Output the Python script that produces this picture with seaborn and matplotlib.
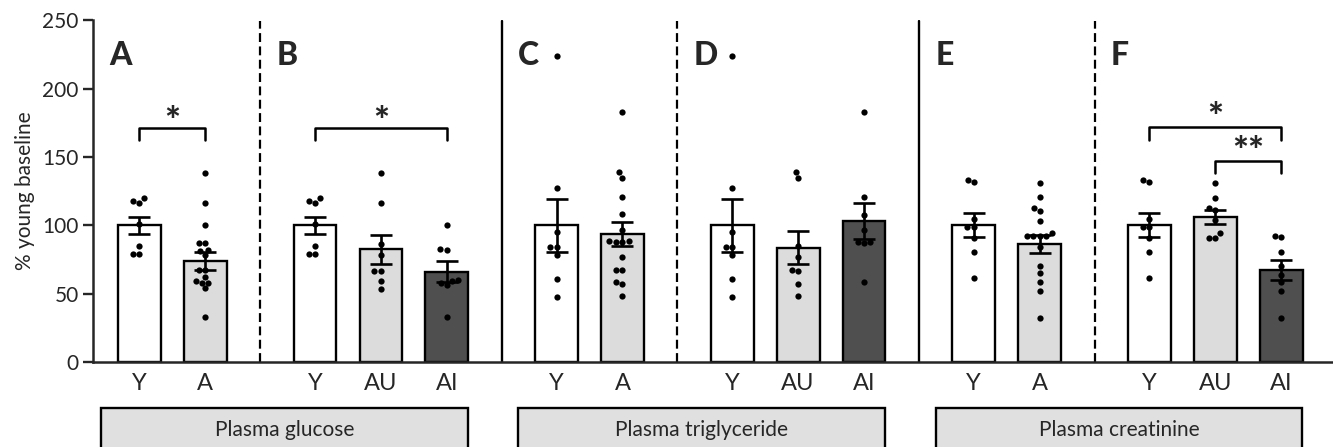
import numpy as np
import pandas as pd
import matplotlib
matplotlib.use("Agg")
import matplotlib.pyplot as plt
import seaborn as sns
from matplotlib.patches import Rectangle
from matplotlib.transforms import blended_transform_factory

# --- data (% young baseline) ---
panel_letters = ["A", "B", "C", "D", "E", "F"]
panel_groups = [["Y", "A"], ["Y", "AU", "AI"],
                ["Y", "A"], ["Y", "AU", "AI"],
                ["Y", "A"], ["Y", "AU", "AI"]]
measures = ["Plasma glucose", "Plasma triglyceride", "Plasma creatinine"]

bar_means = [[100, 74], [100, 82.5, 66],
             [100, 93.5], [100, 83.5, 103],
             [100, 86.5], [100, 106, 67.5]]
bar_sems = [[6.4, 6.7], [6.4, 10.7, 7.6],
            [19.3, 9.0], [19.3, 12.0, 13.0],
            [8.8, 6.4], [8.8, 5.0, 7.2]]

young_glucose = [119.6, 116.5, 117.7, 101, 84.8, 78.7, 78.7]
aged_glucose = [138, 116, 100, 87, 87, 82, 81, 78, 67, 67, 62, 59, 58, 58, 54, 33]
aged_u_glucose = [138, 116, 86, 78, 66.5, 66.5, 59.4, 53.4]
aged_i_glucose = [100, 83, 82, 60, 58, 56, 59, 33]

young_tg = [224, 127, 95.3, 84.3, 84.3, 78.2, 60.4, 47.3]
aged_tg = [183, 138.7, 134.7, 120.8, 108, 96.5, 88.4, 87.5, 87.5, 88.4,
           77, 67.3, 67, 58.5, 56.8, 48.2]
aged_u_tg = [139.1, 134.7, 84.8, 77, 66.5, 67.3, 57, 48.2]
aged_i_tg = [182.5, 120.8, 107.5, 96.5, 88, 86.8, 88, 58.7]

young_creat = [131.3, 133, 104.5, 99, 99, 90.4, 80.2, 61.2]
aged_creat = [130.6, 120.4, 112.8, 110.4, 103.3, 92, 92, 92, 92, 94.5,
              84, 70.2, 64.8, 58.3, 52.1, 31.9]
aged_u_creat = [130.6, 120.1, 111, 112.3, 103.8, 91, 94, 91]
aged_i_creat = [92.4, 91.1, 80.7, 70.4, 63.6, 58.5, 51.9, 31.9]

panel_points = [[young_glucose, aged_glucose],
                [young_glucose, aged_u_glucose, aged_i_glucose],
                [young_tg, aged_tg],
                [young_tg, aged_u_tg, aged_i_tg],
                [young_creat, aged_creat],
                [young_creat, aged_u_creat, aged_i_creat]]

# significance brackets: panel, from bar, to bar, height, label, label centre
sig_panel = [0, 1, 5, 5]
sig_from = [0, 0, 0, 1]
sig_to = [1, 2, 2, 2]
sig_y = [171, 171, 171.5, 147]
sig_label = ["*", "*", "*", "**"]
sig_text_y = [180.5, 180.5, 184, 158.6]

group_colors = {"Y": "white", "A": "#dcdcdc", "AU": "#dcdcdc", "AI": "#4f4f4f"}

# --- layout of bars along one shared axis ---
gap = 5 / 3
positions = []
start = 0.0
for groups in panel_groups:
    positions.append([start + i for i in range(len(groups))])
    start = positions[-1][-1] + gap

bars = []
points = []
for p, groups in enumerate(panel_groups):
    for i, g in enumerate(groups):
        bars.append({"pos": positions[p][i], "mean": bar_means[p][i],
                     "sem": bar_sems[p][i], "group": g})
        for v in panel_points[p][i]:
            points.append({"pos": positions[p][i], "value": v})
bars = pd.DataFrame(bars)
points = pd.DataFrame(points)

sns.set_theme(style="ticks")
plt.rcParams["font.family"] = ["Lato", "DejaVu Sans"]
plt.rcParams["axes.linewidth"] = 1.8

fig = plt.figure(figsize=(13.33, 4.47), dpi=100)
ax = fig.add_axes([0.0695, 0.19, 0.9305, 0.765])

sns.barplot(data=bars, x="pos", y="mean", hue="group", palette=group_colors,
            native_scale=True, dodge=False, width=0.65, errorbar=None,
            edgecolor="black", linewidth=1.7, legend=False, ax=ax, zorder=2)
ax.errorbar(bars["pos"], bars["mean"], yerr=bars["sem"], fmt="none",
            ecolor="black", elinewidth=1.9, capsize=8, capthick=1.9, zorder=3)
sns.swarmplot(data=points, x="pos", y="value", native_scale=True,
              color="black", size=4.5, ax=ax, zorder=4)

# panel separators: dashed within a measure, solid between measures
for p in range(len(panel_groups) - 1):
    xs = (positions[p][-1] + positions[p + 1][0]) / 2
    if p % 2 == 0:
        ax.plot([xs, xs], [0, 249], color="black", lw=1.6, ls="--",
                dashes=(4, 2), zorder=1)
    else:
        ax.plot([xs, xs], [0, 249], color="black", lw=1.7, zorder=1)

# panel letters
xmin = -0.71
for p, letter in enumerate(panel_letters):
    left = xmin if p == 0 else (positions[p - 1][-1] + positions[p][0]) / 2
    ax.text(left + 0.25, 217, letter, fontsize=23, fontweight="black",
            ha="left", va="baseline")

# significance brackets
for p, a, b, y, lab, ty in zip(sig_panel, sig_from, sig_to, sig_y,
                               sig_label, sig_text_y):
    x1, x2 = positions[p][a], positions[p][b]
    ax.plot([x1, x1, x2, x2], [y - 9, y, y, y - 9], color="black", lw=1.8)
    ax.text((x1 + x2) / 2, ty - 14, lab, fontsize=27, fontweight="black",
            ha="center", va="baseline")

ax.set_xlim(xmin, 18.12)
ax.set_ylim(0, 250)
ax.set_yticks(range(0, 251, 50))
all_pos = [x for row in positions for x in row]
all_lab = [g for row in panel_groups for g in row]
ax.set_xticks(all_pos)
ax.set_xticklabels(all_lab)
ax.tick_params(axis="x", length=0, labelsize=17, pad=8)
ax.tick_params(axis="y", length=7, width=1.7, labelsize=15, pad=3)
ax.set_xlabel("")
ax.set_ylabel("% young baseline", fontsize=15, labelpad=5)
sns.despine(ax=ax)

# measure boxes under the axis
trans = blended_transform_factory(ax.transData, fig.transFigure)
for m, name in enumerate(measures):
    x0 = positions[2 * m][0] - 0.58
    x1 = positions[2 * m + 1][-1] + 0.32
    ax.add_patch(Rectangle((x0, -0.05), x1 - x0, 0.137, transform=trans,
                           facecolor="#e0e0e0", edgecolor="black", lw=1.7,
                           clip_on=False))
    ax.text((x0 + x1) / 2, 0.038, name, transform=trans, fontsize=15,
            ha="center", va="center")

fig.savefig("out.png", dpi=100)
